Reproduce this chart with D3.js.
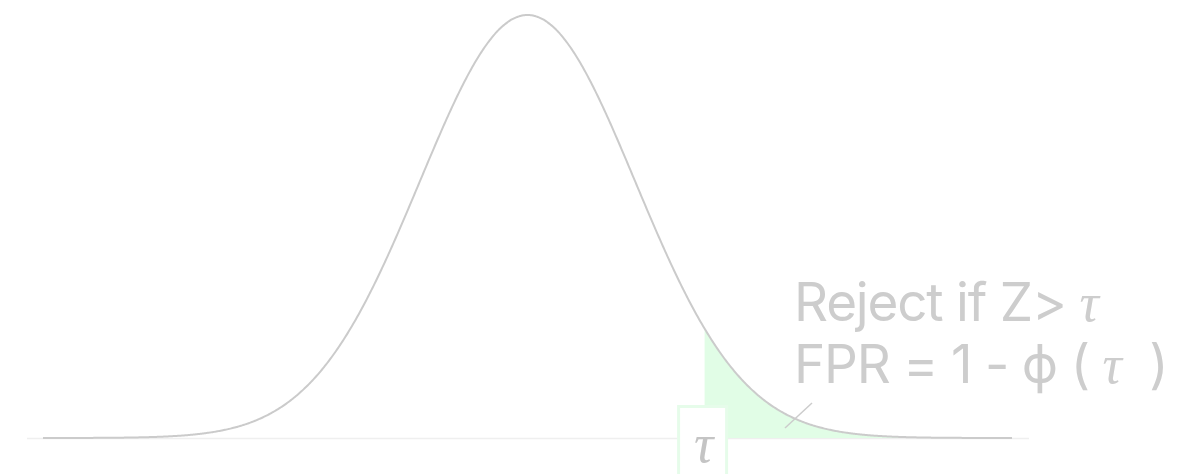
<!DOCTYPE html>
<html>
<head>
<meta charset="utf-8">
<script src="https://cdn.jsdelivr.net/npm/d3@7"></script>
<style>
  html, body { margin: 0; padding: 0; background: #fff; }
  svg { display: block; }
  .sans { font-family: Inter, "Noto Sans", "DejaVu Sans", sans-serif; }
  .math { font-family: "Liberation Serif", "DejaVu Serif", serif; font-style: italic; }
</style>
</head>
<body>
<svg id="chart" width="1196" height="474"></svg>
<script>
// z range plotted for the standard normal null distribution
const zDomain = [-4.5, 4.5];
// rejection threshold (one-sided, alpha = 0.05)
const tau = 1.645;
// annotation lines
const ruleLines = [
  [{ t: "Reject if Z> ", math: false }, { t: "τ", math: true }],
  [{ t: "FPR = 1 - ϕ ( ", math: false }, { t: "τ", math: true }, { t: "  )", math: false }]
];

const W = 1196, H = 474;
const svg = d3.select("#chart");

const x = d3.scaleLinear().domain(zDomain).range([43, 1012]);
const y = d3.scaleLinear().domain([0, 1 / Math.sqrt(2 * Math.PI)]).range([438, 15]);

// standard normal density
const phi = z => Math.exp(-z * z / 2) / Math.sqrt(2 * Math.PI);

const zs = d3.range(zDomain[0], zDomain[1] + 1e-9, 0.01);
const curve = zs.map(z => [z, phi(z)]);
const tail = [[tau, phi(tau)]].concat(curve.filter(d => d[0] > tau));

// baseline axis
svg.append("line")
  .attr("x1", 27).attr("x2", 1029)
  .attr("y1", y(0) + 0.5).attr("y2", y(0) + 0.5)
  .attr("stroke", "#efefef").attr("stroke-width", 1.5);

// rejection region
svg.append("path")
  .datum(tail)
  .attr("d", d3.area().x(d => x(d[0])).y0(y(0)).y1(d => y(d[1])))
  .attr("fill", "#e1fde6");

// density curve
svg.append("path")
  .datum(curve)
  .attr("d", d3.line().x(d => x(d[0])).y(d => y(d[1])).curve(d3.curveBasis))
  .attr("fill", "none")
  .attr("stroke", "#cbcbcb")
  .attr("stroke-width", 2);

// threshold label box
const tx = x(tau);
svg.append("rect")
  .attr("x", tx - 26).attr("y", 406.5)
  .attr("width", 48).attr("height", 80)
  .attr("fill", "#fff")
  .attr("stroke", "#e6fcea").attr("stroke-width", 3);
svg.append("text")
  .attr("class", "math")
  .attr("x", tx - 1).attr("y", 462)
  .attr("text-anchor", "middle")
  .attr("font-size", 54)
  .attr("fill", "#c4c4c4")
  .text("τ");

// pointer from annotation to the tail area
svg.append("line")
  .attr("x1", 785).attr("y1", 428)
  .attr("x2", 812).attr("y2", 403)
  .attr("stroke", "#cccccc").attr("stroke-width", 1.5);

// annotation text
const baselines = [321, 383];
ruleLines.forEach((parts, i) => {
  const t = svg.append("text")
    .attr("class", "sans")
    .attr("x", 794).attr("y", baselines[i])
    .attr("font-size", 53)
    .attr("fill", "#cdcdcd")
    .attr("xml:space", "preserve")
    .style("white-space", "pre");
  parts.forEach(p => {
    t.append("tspan")
      .attr("class", p.math ? "math" : "sans")
      .attr("font-size", p.math ? 54 : 53)
      .attr("letter-spacing", p.math ? 0 : -1.2)
      .text(p.t);
  });
});
</script>
</body>
</html>
